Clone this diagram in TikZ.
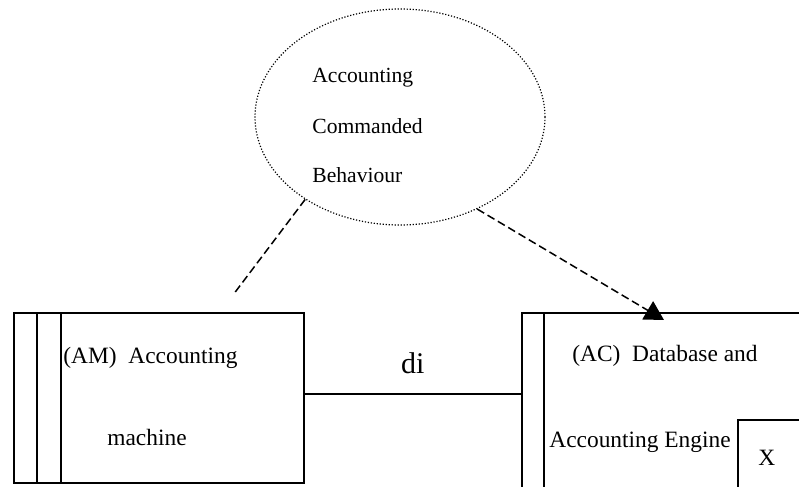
\documentclass[tikz,border=0pt]{standalone}
\usepackage{fontspec}
\setmainfont{Liberation Serif}
\usetikzlibrary{shapes.geometric,arrows.meta,positioning}

\begin{document}
\begin{tikzpicture}[x=0.5pt, y=-0.5pt, >={Triangle[width=10.5pt,length=9.5pt]},
  frame/.style={draw, line width=0.9pt, inner sep=0pt, anchor=north west},
  boxtext/.style={inner sep=0pt, anchor=base west, font=\fontsize{11.7}{14}\selectfont},
  bubbletext/.style={inner sep=0pt, anchor=base west, font=\fontsize{10.8}{13}\selectfont},
  link/.style={line width=0.75pt, dash pattern=on 4pt off 2pt}]
  \useasboundingbox (0,0) rectangle (799,487);
  \clip (0,0) rectangle (799,487);
  % bubble
  \node[ellipse, draw, line width=0.6pt, dash pattern=on 0.6pt off 0.9pt,
        minimum width=145pt, minimum height=108pt] (acb) at (400,117) {};
  \foreach \w/\yy [count=\i] in {Accounting/83, Commanded/133, Behaviour/182}{
    \node[bubbletext] (acbline\i) at (312,\yy) {\w};
  }
  % machine domain
  \node[frame, minimum width=145pt, minimum height=85pt] (am) at (13,312) {};
  \foreach \dx in {12pt, 24pt}{
    \draw[line width=0.9pt] ([xshift=\dx]am.north west) -- ([xshift=\dx]am.south west);
  }
  \node[boxtext] (amtitle) at (63,363) {(AM)\ \ Accounting};
  \node[boxtext] (amname) at (107,445) {machine};
  % given domain
  \node[frame, minimum width=150pt, minimum height=100pt] (ac) at (521,312) {};
  \draw[line width=0.9pt] ([xshift=11.5pt]ac.north west) -- ([xshift=11.5pt]ac.south west);
  \node[boxtext] (actitle) at (572,361) {(AC)\ \ Database and};
  \node[boxtext] (acname) at (549,447) {Accounting Engine};
  \node[frame, minimum width=40pt, minimum height=40pt] (xbox) at (737,419) {};
  \node[boxtext] (xlabel) at (758,465) {X};
  % interface
  \draw[line width=0.9pt] ([yshift=2pt]am.east) -- ([yshift=2pt]am.east -| ac.west)
    node[midway, anchor=base, yshift=10pt, inner sep=0pt, font=\fontsize{15}{18}\selectfont] (di) {di};
  % requirement links
  \coordinate (amtop) at (233,295);
  \coordinate (acin) at ([xshift=71.5pt, yshift=-4pt]ac.north west);
  \draw[link] (acb.221) -- (amtop);
  \draw[link, ->] (acb.-50) -- (acin);
\end{tikzpicture}
\end{document}
